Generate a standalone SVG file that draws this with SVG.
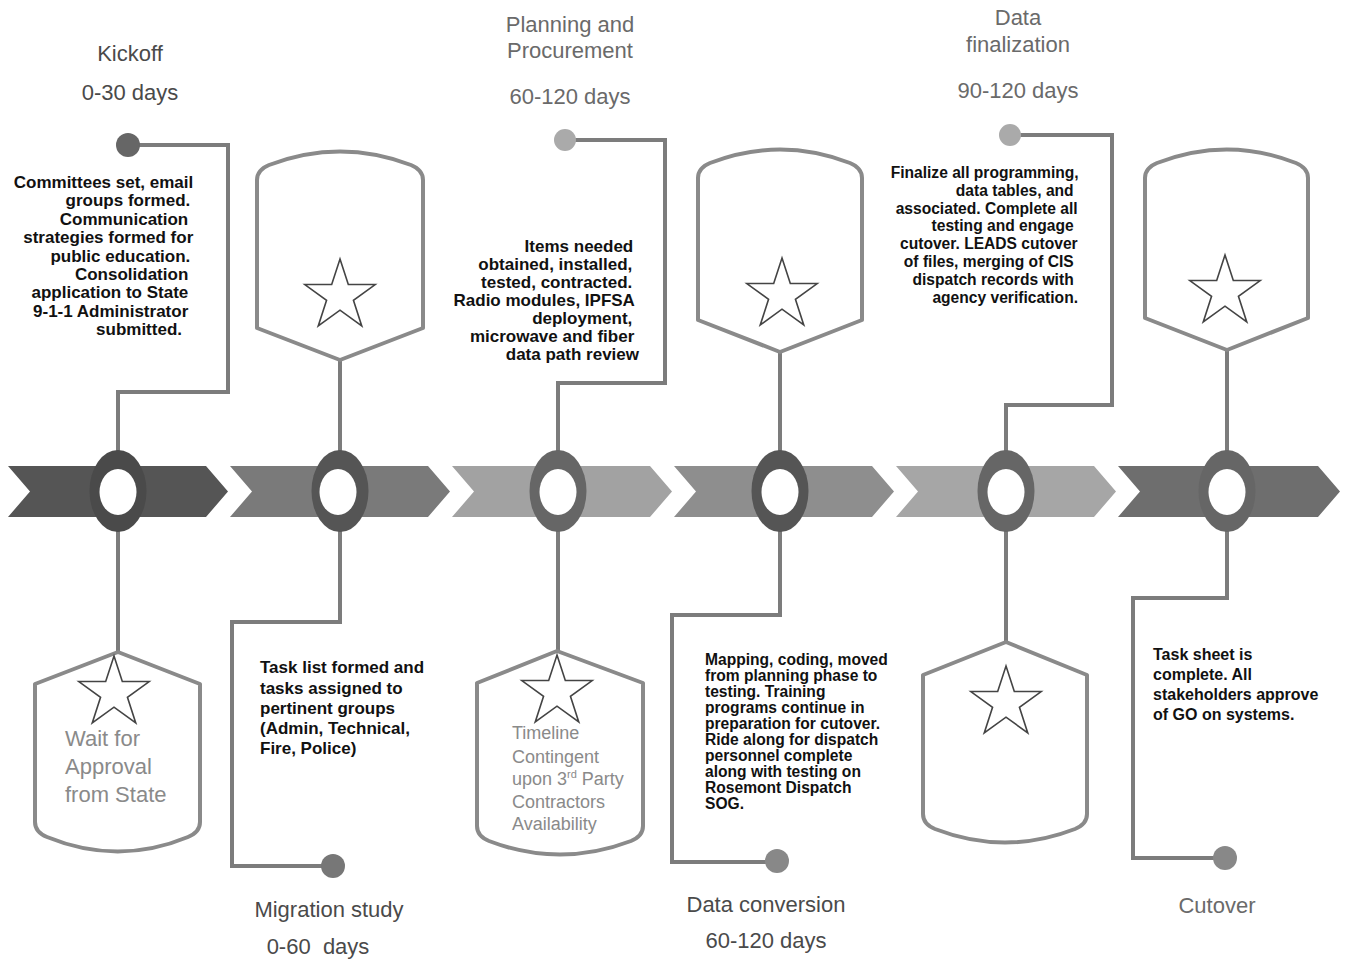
<svg xmlns="http://www.w3.org/2000/svg" xmlns:xlink="http://www.w3.org/1999/xlink" width="1347" height="959" viewBox="0 0 1347 959">
<style>
.title{font-family:"Liberation Sans",Arial,sans-serif;font-size:22px;fill:#4a4a4a;text-anchor:middle}
.title.light{fill:#6a6a6a}
.body{font-family:"Liberation Sans",Arial,sans-serif;font-weight:bold;fill:#111}
.shieldtxt{font-family:"Liberation Sans",Arial,sans-serif;fill:#8a8a8a}
.conn{fill:none;stroke:#7c7c7c;stroke-width:4;stroke-linejoin:miter}
.shield{fill:#fff;stroke:#8a8a8a;stroke-width:4;stroke-linejoin:round}
.star{fill:#fff;stroke:#444;stroke-width:1.6;stroke-linejoin:miter}
.inner{fill:#fff}
</style>
<defs>
<path id="star" d="M0,-37 L8.31,-11.43 L35.19,-11.43 L13.44,4.37 L21.75,29.93 L0,14.13 L-21.75,29.93 L-13.44,4.37 L-35.19,-11.43 L-8.31,-11.43 Z"/>
</defs>
<rect width="1347" height="959" fill="#fff"/>

<g id="connectors">
<path class="conn" d="M138,145 H228 V392 H118 V455"/>
<path class="conn" d="M118,525 V652"/>
<path class="conn" d="M340,358 V455"/>
<path class="conn" d="M340,525 V622 H232 V866 H325"/>
<path class="conn" d="M574,140 H665 V383 H558 V455"/>
<path class="conn" d="M558,525 V651"/>
<path class="conn" d="M780,350 V455"/>
<path class="conn" d="M780,525 V615 H672 V862 H769"/>
<path class="conn" d="M1019,135 H1112 V405 H1006 V455"/>
<path class="conn" d="M1006,525 V642"/>
<path class="conn" d="M1227,348 V455"/>
<path class="conn" d="M1227,525 V598 H1133 V858 H1217"/>
</g>

<g id="timeline">
<path d="M8,466 H206 L228,491.5 L206,517 H8 L30,491.5 Z" fill="#555"/>
<path d="M230,466 H428 L450,491.5 L428,517 H230 L252,491.5 Z" fill="#7a7a7a"/>
<path d="M452,466 H650 L672,491.5 L650,517 H452 L474,491.5 Z" fill="#a2a2a2"/>
<path d="M674,466 H872 L894,491.5 L872,517 H674 L696,491.5 Z" fill="#8e8e8e"/>
<path d="M896,466 H1094 L1116,491.5 L1094,517 H896 L918,491.5 Z" fill="#a6a6a6"/>
<path d="M1118,466 H1318 L1340,491.5 L1318,517 H1118 L1140,491.5 Z" fill="#6e6e6e"/>
</g>

<g id="node-kickoff">
<text class="title" x="130" y="61">Kickoff</text>
<text class="title" x="130" y="100">0-30 days</text>
<circle cx="128" cy="145" r="12" fill="#666"/>
<text class="body" font-size="17" text-anchor="end">
<tspan x="198" y="188">Committees set, email</tspan>
<tspan x="195" y="206.4">groups formed.</tspan>
<tspan x="193" y="224.8">Communication</tspan>
<tspan x="198" y="243.2">strategies formed for</tspan>
<tspan x="195" y="261.6">public education.</tspan>
<tspan x="193" y="280">Consolidation</tspan>
<tspan x="193" y="298.4">application to State</tspan>
<tspan x="193" y="316.8">9-1-1 Administrator</tspan>
<tspan x="182" y="335.2">submitted.</tspan>
</text>
<ellipse cx="118" cy="491" rx="28.5" ry="41" fill="#4a4a4a"/>
<ellipse class="inner" cx="118" cy="492" rx="18.5" ry="23"/>
<path class="shield" d="M118,652 L200,684 L200,822 Q200,832 188,837 Q118,866 47,837 Q35,832 35,822 L35,684 Z"/>
<use href="#star" class="star" transform="translate(114,693)"/>
<text class="shieldtxt" font-size="22">
<tspan x="65" y="746">Wait for</tspan>
<tspan x="65" y="774">Approval</tspan>
<tspan x="65" y="802">from State</tspan>
</text>
</g>

<g id="node-migration">
<path class="shield" d="M257,328 L257,180 Q257,170 269,165 Q340,138 411,165 Q423,170 423,180 L423,328 L340,360 Z"/>
<use href="#star" class="star" transform="translate(340,296)"/>
<ellipse cx="340" cy="491" rx="28.5" ry="41" fill="#555"/>
<ellipse class="inner" cx="338" cy="492" rx="18.5" ry="23"/>
<text class="body" font-size="17">
<tspan x="260" y="673">Task list formed and</tspan>
<tspan x="260" y="694">tasks assigned to</tspan>
<tspan x="260" y="714">pertinent groups</tspan>
<tspan x="260" y="734">(Admin, Technical,</tspan>
<tspan x="260" y="754">Fire, Police)</tspan>
</text>
<circle cx="333" cy="866" r="12" fill="#777"/>
<text class="title" x="329" y="917">Migration study</text>
<text class="title" x="318" y="954" xml:space="preserve">0-60  days</text>
</g>

<g id="node-planning">
<text class="title light" font-size="24" x="570" y="32">Planning and</text>
<text class="title light" font-size="24" x="570" y="58">Procurement</text>
<text class="title light" font-size="24" x="570" y="104">60-120 days</text>
<circle cx="565" cy="140" r="11" fill="#aaa"/>
<text class="body" font-size="17" text-anchor="end">
<tspan x="638" y="252">Items needed</tspan>
<tspan x="637" y="270">obtained, installed,</tspan>
<tspan x="637" y="288">tested, contracted.</tspan>
<tspan x="639" y="306">Radio modules, IPFSA</tspan>
<tspan x="637" y="324">deployment,</tspan>
<tspan x="639" y="342">microwave and fiber</tspan>
<tspan x="639" y="360">data path review</tspan>
</text>
<ellipse cx="558" cy="491" rx="28.5" ry="41" fill="#666"/>
<ellipse class="inner" cx="558" cy="492" rx="18.5" ry="23"/>
<path class="shield" d="M557,651 L643,683 L643,826 Q643,836 631,841 Q560,868 489,841 Q477,836 477,826 L477,683 Z"/>
<use href="#star" class="star" transform="translate(557,692)"/>
<text class="shieldtxt" font-size="18">
<tspan x="512" y="739">Timeline</tspan>
<tspan x="512" y="763">Contingent</tspan>
<tspan x="512" y="785">upon 3<tspan font-size="11" dy="-7">rd</tspan><tspan dy="7"> Party</tspan></tspan>
<tspan x="512" y="808">Contractors</tspan>
<tspan x="512" y="830">Availability</tspan>
</text>
</g>

<g id="node-dataconversion">
<path class="shield" d="M698,320 L698,178 Q698,168 710,163 Q780,136 850,163 Q862,168 862,178 L862,320 L780,352 Z"/>
<use href="#star" class="star" transform="translate(782,295)"/>
<ellipse cx="780" cy="491" rx="28.5" ry="41" fill="#555"/>
<ellipse class="inner" cx="780" cy="492" rx="18.5" ry="23"/>
<text class="body" font-size="15.6">
<tspan x="705" y="665">Mapping, coding, moved</tspan>
<tspan x="705" y="681">from planning phase to</tspan>
<tspan x="705" y="697">testing. Training</tspan>
<tspan x="705" y="713">programs continue in</tspan>
<tspan x="705" y="729">preparation for cutover.</tspan>
<tspan x="705" y="745">Ride along for dispatch</tspan>
<tspan x="705" y="761">personnel complete</tspan>
<tspan x="705" y="777">along with testing on</tspan>
<tspan x="705" y="793">Rosemont Dispatch</tspan>
<tspan x="705" y="809">SOG.</tspan>
</text>
<circle cx="777" cy="861" r="12" fill="#888"/>
<text class="title" font-size="21" x="766" y="912">Data conversion</text>
<text class="title" font-size="21" x="766" y="948">60-120 days</text>
</g>

<g id="node-datafinal">
<text class="title light" font-size="23" x="1018" y="25">Data</text>
<text class="title light" font-size="23" x="1018" y="52">finalization</text>
<text class="title light" font-size="23" x="1018" y="98">90-120 days</text>
<circle cx="1010" cy="135" r="11" fill="#aaa"/>
<text class="body" font-size="15.6" text-anchor="end">
<tspan x="1083" y="178">Finalize all programming,</tspan>
<tspan x="1078" y="195.8">data tables, and</tspan>
<tspan x="1082" y="213.6">associated. Complete all</tspan>
<tspan x="1078" y="231.4">testing and engage</tspan>
<tspan x="1082" y="249.2">cutover. LEADS cutover</tspan>
<tspan x="1078" y="267">of files, merging of CIS</tspan>
<tspan x="1078" y="284.8">dispatch records with</tspan>
<tspan x="1078" y="302.6">agency verification.</tspan>
</text>
<ellipse cx="1006" cy="491" rx="28.5" ry="41" fill="#666"/>
<ellipse class="inner" cx="1006" cy="492" rx="18.5" ry="23"/>
<path class="shield" d="M1006,642 L1087,675 L1087,814 Q1087,824 1075,829 Q1005,856 935,829 Q923,824 923,814 L923,675 Z"/>
<use href="#star" class="star" transform="translate(1006,703)"/>
</g>

<g id="node-cutover">
<path class="shield" d="M1145,318 L1145,178 Q1145,168 1157,163 Q1227,136 1296,163 Q1308,168 1308,178 L1308,318 L1227,350 Z"/>
<use href="#star" class="star" transform="translate(1225,292)"/>
<ellipse cx="1227" cy="491" rx="28.5" ry="41" fill="#666"/>
<ellipse class="inner" cx="1227" cy="492" rx="18.5" ry="23"/>
<text class="body" font-size="16">
<tspan x="1153" y="660">Task sheet is</tspan>
<tspan x="1153" y="680">complete. All</tspan>
<tspan x="1153" y="700">stakeholders approve</tspan>
<tspan x="1153" y="720">of GO on systems.</tspan>
</text>
<circle cx="1225" cy="858" r="12" fill="#888"/>
<text class="title light" font-size="24" x="1217" y="913">Cutover</text>
</g>
</svg>
